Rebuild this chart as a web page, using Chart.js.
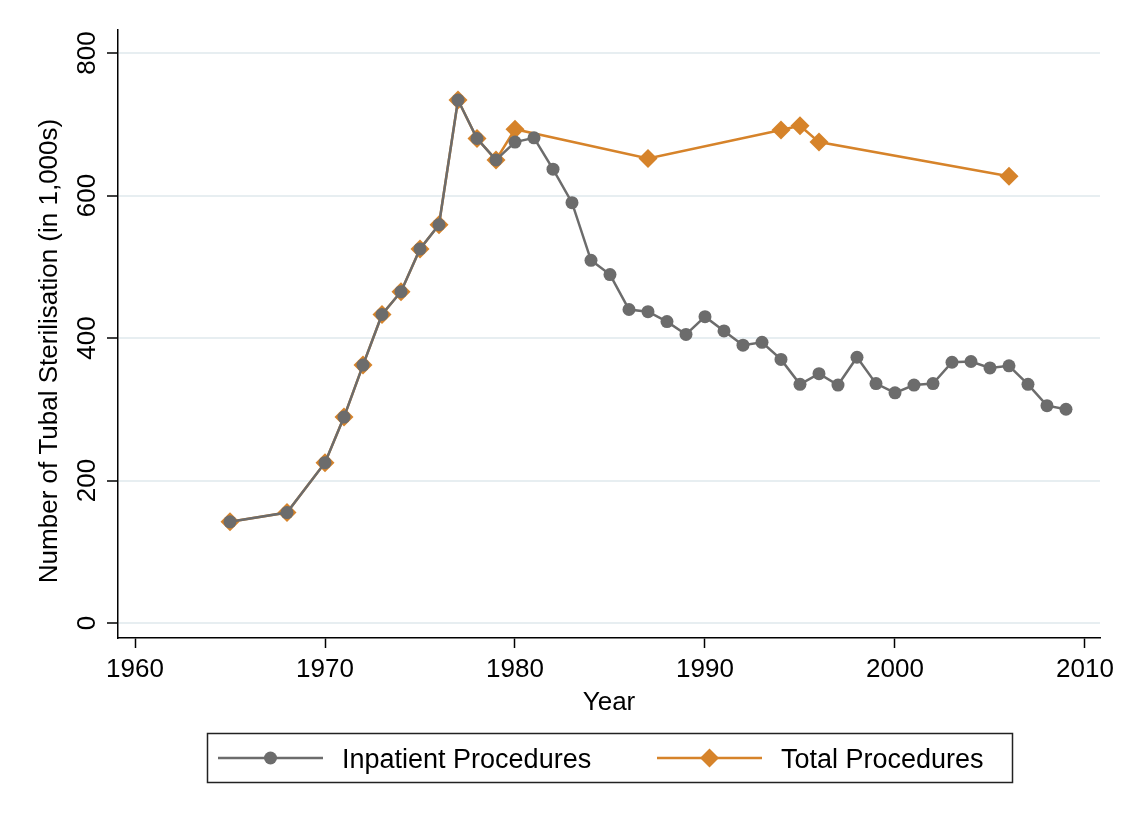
<!DOCTYPE html>
<html>
<head>
<meta charset="utf-8">
<script src="https://cdn.jsdelivr.net/npm/chart.js@4/dist/chart.umd.min.js"></script>
<style>
  html, body { margin: 0; background: #fff; }
</style>
</head>
<body>
<canvas id="chart" width="1127" height="821"></canvas>
<script>
const inpatientYears = [1965, 1968, 1970, 1971, 1972, 1973, 1974, 1975, 1976, 1977, 1978, 1979,
  1980, 1981, 1982, 1983, 1984, 1985, 1986, 1987, 1988, 1989, 1990, 1991, 1992, 1993, 1994,
  1995, 1996, 1997, 1998, 1999, 2000, 2001, 2002, 2003, 2004, 2005, 2006, 2007, 2008, 2009];
const inpatientValues = [142, 155, 225, 289, 362, 433, 465, 525, 559, 734, 680, 650,
  675, 681, 637, 590, 509, 489, 440, 437, 423, 405, 430, 410, 390, 394, 370,
  335, 350, 334, 373, 336, 323, 334, 336, 366, 367, 358, 361, 335, 305, 300];

const totalYears = [1965, 1968, 1970, 1971, 1972, 1973, 1974, 1975, 1976, 1977, 1978, 1979,
  1980, 1987, 1994, 1995, 1996, 2006];
const totalValues = [142, 155, 225, 289, 362, 433, 465, 525, 559, 734, 680, 650,
  693, 652, 692, 698, 675, 627];

const xTicks = [1960, 1970, 1980, 1990, 2000, 2010];
const yTicks = [0, 200, 400, 600, 800];
const xTitle = "Year";
const yTitle = "Number of Tubal Sterilisation (in 1,000s)";

const GRAY = "#6c6c6c";
const ORANGE = "#d6832a";
const FONT = '"Liberation Sans", Arial, Helvetica, sans-serif';

Chart.defaults.font.family = FONT;
Chart.defaults.font.size = 26;
Chart.defaults.color = "#000";

function toPoints(xs, ys) {
  return xs.map((x, i) => ({ x, y: ys[i] }));
}

// stata-like extras: rotated y labels, y title, boxed legend
const stataExtras = {
  id: "stataExtras",
  afterDraw(chart) {
    const ctx = chart.ctx;
    const yScale = chart.scales.y;
    ctx.save();
    ctx.fillStyle = "#000";
    ctx.textAlign = "center";
    ctx.textBaseline = "alphabetic";
    ctx.font = "26px " + FONT;

    yScale.ticks.forEach((t) => {
      const py = yScale.getPixelForValue(t.value);
      ctx.save();
      ctx.translate(95, py);
      ctx.rotate(-Math.PI / 2);
      ctx.fillText(String(t.value), 0, 0);
      ctx.restore();
    });

    ctx.save();
    ctx.translate(57, 351);
    ctx.rotate(-Math.PI / 2);
    ctx.fillText(yTitle, 0, 0);
    ctx.restore();

    // legend box
    ctx.strokeStyle = "#222";
    ctx.lineWidth = 1.5;
    ctx.strokeRect(207.5, 733.5, 805, 49);

    const starts = [218, 657];
    const cy = 758;
    ctx.font = "27px " + FONT;
    ctx.textAlign = "left";
    chart.data.datasets.forEach((ds, i) => {
      const x0 = starts[i];
      ctx.strokeStyle = ds.borderColor;
      ctx.lineWidth = 2.5;
      ctx.beginPath();
      ctx.moveTo(x0, cy);
      ctx.lineTo(x0 + 105, cy);
      ctx.stroke();
      ctx.fillStyle = ds.pointBackgroundColor;
      const mx = x0 + 52.5;
      const r = ds.pointRadius;
      ctx.beginPath();
      if (ds.pointStyle === "rectRot") {
        ctx.moveTo(mx, cy - r);
        ctx.lineTo(mx + r, cy);
        ctx.lineTo(mx, cy + r);
        ctx.lineTo(mx - r, cy);
        ctx.closePath();
      } else {
        ctx.arc(mx, cy, r, 0, Math.PI * 2);
      }
      ctx.fill();
      ctx.fillStyle = "#000";
      ctx.fillText(ds.label, x0 + 124, cy + 10);
    });
    ctx.restore();
  },
};

new Chart(document.getElementById("chart"), {
  type: "line",
  data: {
    datasets: [
      {
        label: "Inpatient Procedures",
        data: toPoints(inpatientYears, inpatientValues),
        borderColor: GRAY,
        backgroundColor: GRAY,
        pointBackgroundColor: GRAY,
        pointBorderColor: GRAY,
        pointBorderWidth: 0,
        pointStyle: "circle",
        pointRadius: 6.5,
        borderWidth: 2.5,
        tension: 0,
      },
      {
        label: "Total Procedures",
        data: toPoints(totalYears, totalValues),
        borderColor: ORANGE,
        backgroundColor: ORANGE,
        pointBackgroundColor: ORANGE,
        pointBorderColor: ORANGE,
        pointBorderWidth: 0,
        pointStyle: "rectRot",
        pointRadius: 9.5,
        borderWidth: 2.5,
        tension: 0,
      },
    ],
  },
  options: {
    responsive: false,
    animation: false,
    layout: { padding: { left: 8, right: 27, top: 30, bottom: 103 } },
    plugins: {
      legend: { display: false },
      tooltip: { enabled: false },
    },
    scales: {
      x: {
        type: "linear",
        min: 1959.105,
        max: 2010.79,
        afterBuildTicks: (scale) => {
          scale.ticks = xTicks.map((v) => ({ value: v }));
        },
        afterFit: (scale) => {
          scale.height = 80;
        },
        ticks: {
          padding: 6,
          maxRotation: 0,
          font: { size: 26 },
          callback: (v) => String(v),
        },
        grid: {
          drawOnChartArea: false,
          drawTicks: true,
          tickLength: 10,
          tickColor: "#000",
          tickWidth: 1.5,
        },
        border: { display: true, color: "#000", width: 1.5 },
        title: {
          display: true,
          text: xTitle,
          font: { size: 26 },
          padding: { top: 0, bottom: 0 },
        },
      },
      y: {
        type: "linear",
        min: -21.05,
        max: 832.3,
        afterBuildTicks: (scale) => {
          scale.ticks = yTicks.map((v) => ({ value: v }));
        },
        afterFit: (scale) => {
          scale.width = 110;
        },
        ticks: { display: false },
        grid: {
          color: "#e7eef1",
          lineWidth: 2,
          drawTicks: true,
          tickLength: 11,
          tickColor: "#000",
          tickWidth: 1.5,
        },
        border: { display: true, color: "#000", width: 1.5 },
      },
    },
  },
  plugins: [stataExtras],
});
</script>
</body>
</html>
